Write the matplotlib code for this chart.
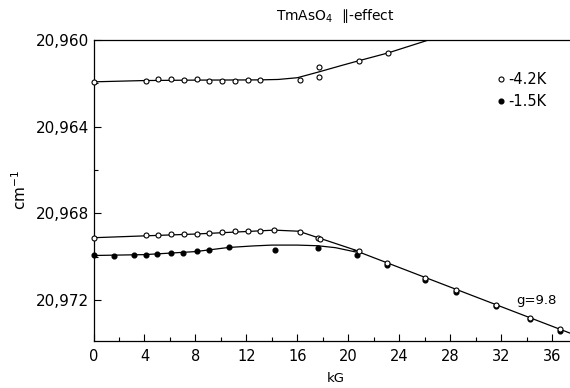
import matplotlib
matplotlib.use("Agg")
from matplotlib import pyplot as plt
from matplotlib.ticker import MultipleLocator, FixedLocator

# Upper branch, 4.2 K (open circles)
hi_kg = [0, 4.1, 5.1, 6.1, 7.1, 8.1, 9.1, 10.1, 11.1, 12.1, 13.1, 16.2, 17.7, 17.7, 20.8, 23.1]
hi_cm = [20961.95, 20961.87, 20961.81, 20961.81, 20961.84, 20961.81, 20961.89, 20961.87,
         20961.89, 20961.85, 20961.84, 20961.84, 20961.26, 20961.69, 20960.95, 20960.6]

# Lower branch, 4.2 K (open circles)
lo42_kg = [0, 4.1, 5.1, 6.1, 7.1, 8.1, 9.1, 10.1, 11.1, 12.1, 13.1, 14.2, 16.2, 17.6, 17.8,
           20.8, 23.0, 26.05, 28.45, 31.6, 34.25, 36.6]
lo42_cm = [20969.14, 20969.0, 20969.0, 20968.97, 20968.95, 20968.94, 20968.9, 20968.87,
           20968.83, 20968.81, 20968.8, 20968.76, 20968.84, 20969.12, 20969.2,
           20969.73, 20970.3, 20970.97, 20971.51, 20972.22, 20972.81, 20973.33]

# Lower branch, 1.5 K (filled dots)
lo15_kg = [0, 1.6, 3.2, 4.1, 5.0, 6.05, 7.05, 8.1, 9.05, 10.6, 14.25, 17.6, 20.7,
           23.0, 26.05, 28.45, 31.6, 34.25, 36.6]
lo15_cm = [20969.93, 20969.96, 20969.9, 20969.9, 20969.87, 20969.84, 20969.81, 20969.74,
           20969.7, 20969.56, 20969.69, 20969.61, 20969.9,
           20970.39, 20971.08, 20971.62, 20972.28, 20972.89, 20973.44]

# hand-drawn curves through the points
hi_fit_kg = [0, 4, 8, 13, 14.5, 16, 17.7, 19.5, 20.8, 23.1, 26.3]
hi_fit_cm = [20961.93, 20961.87, 20961.85, 20961.84, 20961.82, 20961.74, 20961.47,
             20961.17, 20960.96, 20960.6, 20960.0]
o_fit_kg = [0, 8, 14.2, 16.1, 20.6]
o_fit_cm = [20969.12, 20968.95, 20968.77, 20968.82, 20969.7]
f_fit_kg = [0, 4, 8, 10.6, 12.5, 14, 16, 17.6, 19, 20.6]
f_fit_cm = [20969.94, 20969.9, 20969.76, 20969.57, 20969.5, 20969.46, 20969.46,
            20969.49, 20969.58, 20969.78]
lin_kg = [20.4, 37.4]
lin_cm = [20969.68, 20973.52]

yticks = [20960, 20964, 20968, 20972]
ytick_labels = ['20,960', '20,964', '20,968', '20,972']
xticks = [0, 4, 8, 12, 16, 20, 24, 28, 32, 36]

plt.rcParams['font.family'] = ['DejaVu Sans']
fig = plt.figure(figsize=(5.7, 3.88), dpi=100)
ax = fig.add_axes([93.5 / 570, 1 - 340.7 / 388, 1 - 93.5 / 570, (340.7 - 40) / 388])

lw = 0.9
ax.plot(hi_fit_kg, hi_fit_cm, c='black', lw=lw)
ax.plot(o_fit_kg, o_fit_cm, c='black', lw=lw)
ax.plot(f_fit_kg, f_fit_cm, c='black', lw=lw)
ax.plot(lin_kg, lin_cm, c='black', lw=lw)

ax.plot(lo15_kg, lo15_cm, 'o', ms=3.4, mfc='black', mec='black', clip_on=False,
        label='-1.5K', zorder=3)
ax.plot(hi_kg, hi_cm, 'o', ms=3.6, mfc='white', mec='black', mew=0.8, clip_on=False, zorder=4)
ax.plot(lo42_kg, lo42_cm, 'o', ms=3.6, mfc='white', mec='black', mew=0.8, clip_on=False,
        label='-4.2K', zorder=4)

ax.set_xlim(0, 37.4)
ax.set_ylim(20973.87, 20960)

ax.xaxis.set_major_locator(FixedLocator(xticks))
ax.xaxis.set_minor_locator(MultipleLocator(2))
ax.set_yticks(yticks)
ax.set_yticklabels(ytick_labels)
ax.yaxis.set_minor_locator(MultipleLocator(2))
ax.tick_params(axis='x', which='both', direction='in', labelsize=10.5, pad=6)
ax.tick_params(axis='y', which='both', direction='in', labelsize=11, pad=3)
ax.tick_params(which='major', length=5, width=0.8)
ax.tick_params(which='minor', length=3, width=0.8)

ax.spines['right'].set_visible(False)
for s in ['left', 'bottom', 'top']:
    ax.spines[s].set_linewidth(0.9)

ax.text(0.507, 1.08, 'TmAsO$_4$  \u2225-effect', transform=ax.transAxes,
        ha='center', va='center', fontsize=10)
ax.set_xlabel('kG', fontsize=9.5)
ax.xaxis.set_label_coords(0.509, -0.105)
ax.set_ylabel('cm$^{-1}$', fontsize=11)
ax.yaxis.set_label_coords(-0.135, 0.50)

ax.text(34.8, 20972.0, 'g=9.8', ha='center', va='center', fontsize=9.5)

handles, labels = ax.get_legend_handles_labels()
ax.legend(handles[::-1], labels[::-1], loc='upper left', frameon=False,
          bbox_to_anchor=(498 / 570, 1 - 72 / 388), bbox_transform=fig.transFigure,
          handlelength=0.4, handletextpad=0.3, borderpad=0, borderaxespad=0,
          labelspacing=0.5, fontsize=10.5)

fig.savefig('out.png', dpi=100)
